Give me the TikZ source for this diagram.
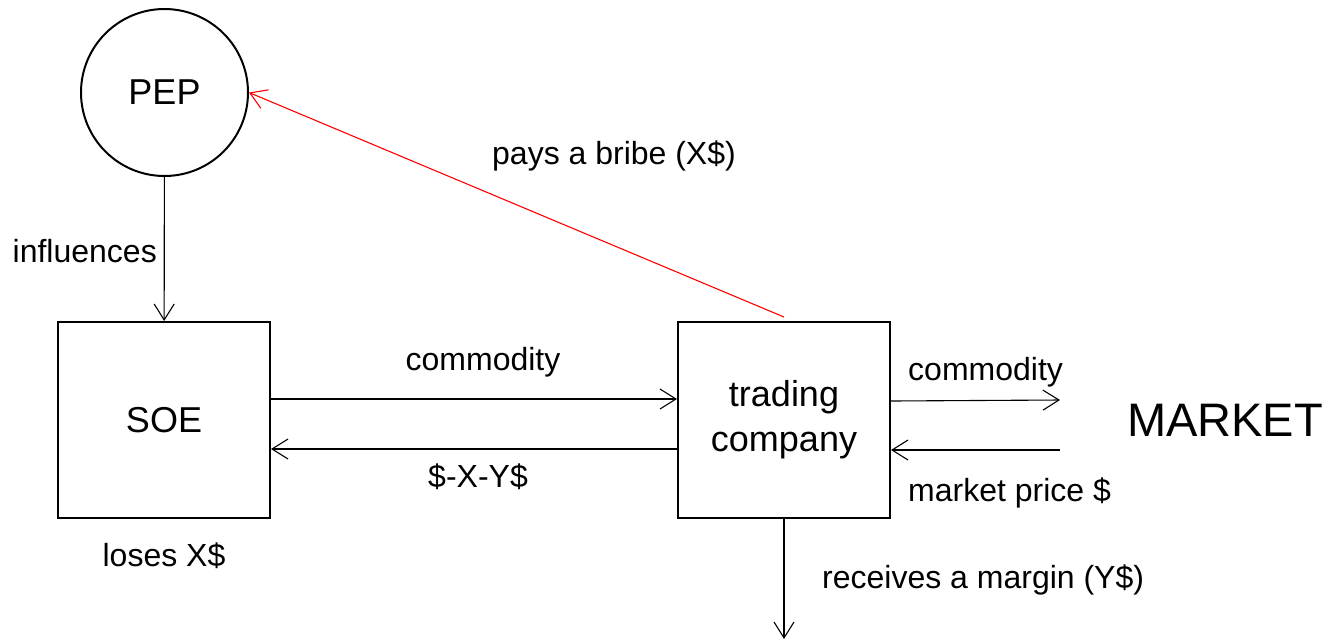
\documentclass[tikz,border=0pt]{standalone}
\usepackage{fontspec}
\setmainfont{Liberation Sans}
\usetikzlibrary{arrows.meta}
\tikzset{
  entity/.style={draw, line width=2pt, minimum width=212pt, minimum height=196pt,
                 inner sep=0pt, align=center, font=\fontsize{36}{40}\selectfont},
  actor/.style={draw, circle, line width=2pt, minimum size=167pt, inner sep=0pt,
                font=\fontsize{36}{40}\selectfont},
  flow/.style={line width=1.1pt, -{Straight Barb[length=16pt,width=20pt,line width=1.1pt]}},
  bribe/.style={flow, red},
  tag/.style={inner sep=0pt, font=\fontsize{32}{36}\selectfont},
}
\begin{document}
\begin{tikzpicture}[x=1pt, y=-1pt]
\useasboundingbox (0,0) rectangle (1335,641);

% parties
\node[actor]  (pep) at (164.5,92.5) {PEP};
\node[entity] (soe) at (164,420) {SOE};
\node[entity] (tc)  at (784,420) {trading\\[5pt]company};
\node[inner sep=0pt, font=\fontsize{47}{50}\selectfont] (market) at (1225,420) {MARKET};

% free ends of the open flows
\coordinate (mktout)  at (1060,400);
\coordinate (mktin)   at (1060,450);
\coordinate (margin)  at (tc.south |- 0,639);
\coordinate (payer)   at ([yshift=4pt]tc.north);

% flows
\draw[flow] (pep) -- (soe);
\draw[flow] ([yshift=21pt]soe.east) -- ([yshift=21pt]tc.west);
\draw[flow] ([yshift=-29pt]tc.west) -- ([yshift=-29pt]soe.east);
\draw[flow] ([yshift=19pt]tc.east) -- (mktout);
\draw[flow] (mktin) -- ([yshift=-30pt]tc.east);
\draw[flow] (tc.south) -- (margin);
\draw[bribe] (payer) -- (pep.east);

% labels
\node[tag, anchor=east] (linf)   at (157,251) {influences};
\node[tag] (lcom)   at (483,362) {commodity};
\node[tag] (lpay)   at (478,477) {\$-X-Y\$};
\node[tag] (lloss)  at (164,556) {loses X\$};
\node[tag] (lbribe) at (614,156) {pays a bribe (X\$)};
\node[tag, anchor=west] (lcom2)  at (908,372) {commodity};
\node[tag, anchor=west] (lprice) at (908,493) {market price \$};
\node[tag, anchor=west] (lmarg)  at (822,580) {receives a margin (Y\$)};
\end{tikzpicture}
\end{document}
